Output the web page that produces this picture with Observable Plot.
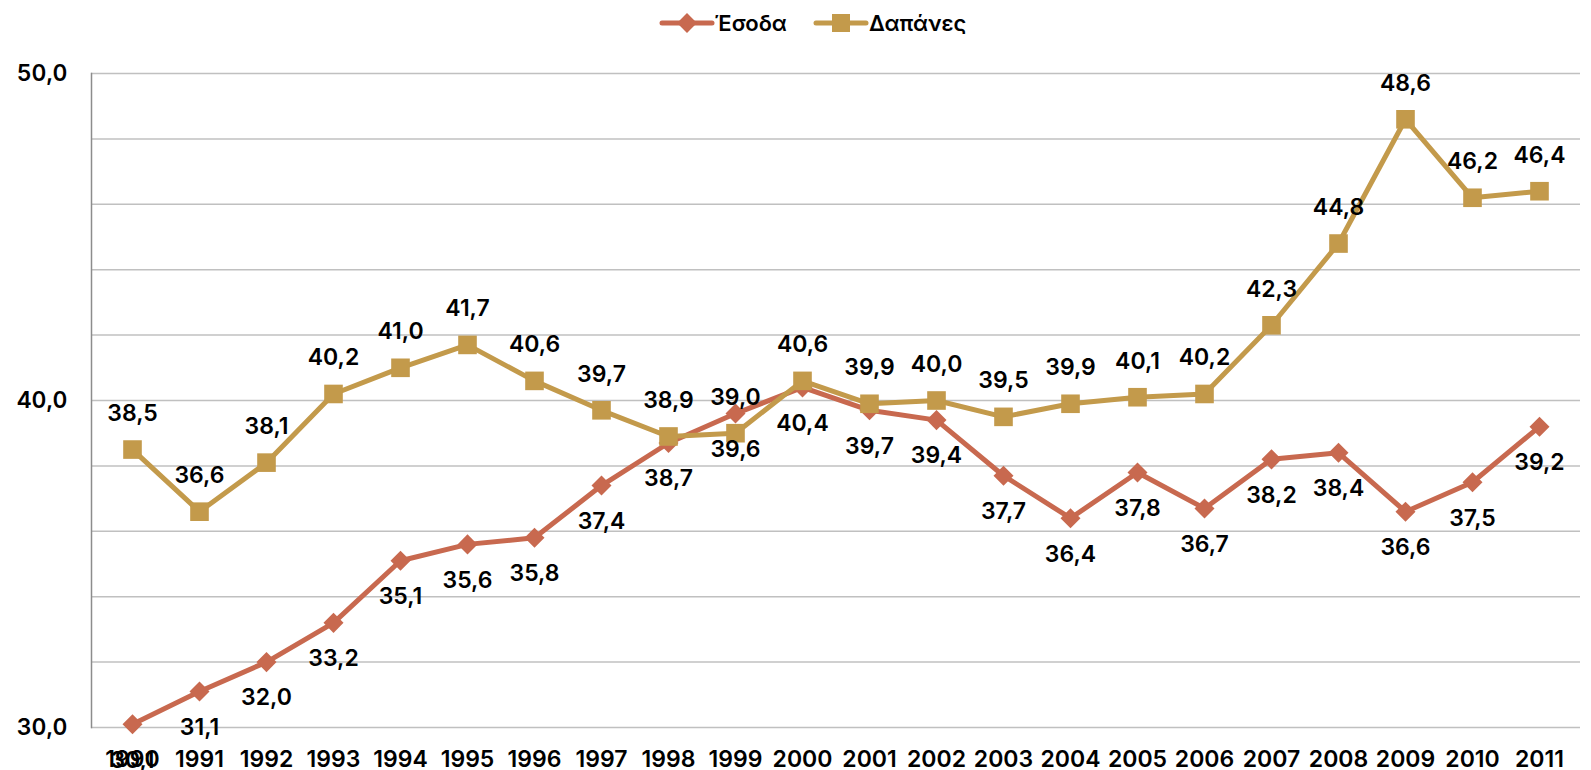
<!DOCTYPE html>
<html>
<head>
<meta charset="utf-8">
<script src="https://cdn.jsdelivr.net/npm/d3@7"></script>
<script src="https://cdn.jsdelivr.net/npm/@observablehq/plot@0.6"></script>
<style>
  html, body { margin: 0; padding: 0; background: #fff; }
  body { width: 1591px; height: 770px; overflow: hidden; font-family: "Inter", "Liberation Sans", sans-serif; }
  #legend { height: 45px; display: flex; justify-content: center; align-items: center; gap: 26px; padding-left: 34px; box-sizing: border-box; font-size: 22px; font-weight: 600; color: #000; }
  .item { display: flex; align-items: center; gap: 0px; }
  .item svg { display: block; }
</style>
</head>
<body>
<div id="legend"></div>
<div id="chart"></div>
<script>
const years = ["1990","1991","1992","1993","1994","1995","1996","1997","1998","1999","2000","2001","2002","2003","2004","2005","2006","2007","2008","2009","2010","2011"];
const esoda = [30.1, 31.1, 32.0, 33.2, 35.1, 35.6, 35.8, 37.4, 38.7, 39.6, 40.4, 39.7, 39.4, 37.7, 36.4, 37.8, 36.7, 38.2, 38.4, 36.6, 37.5, 39.2];
const dapanes = [38.5, 36.6, 38.1, 40.2, 41.0, 41.7, 40.6, 39.7, 38.9, 39.0, 40.6, 39.9, 40.0, 39.5, 39.9, 40.1, 40.2, 42.3, 44.8, 48.6, 46.2, 46.4];
const seriesNames = ["Έσοδα", "Δαπάνες"];
const seriesColors = ["#C8694F", "#C39A4B"];
const yLabelTicks = [30, 40, 50];
const yGridTicks = [30, 32, 34, 36, 38, 40, 42, 44, 46, 48, 50];

const fmt = d => d.toFixed(1).replace(".", ",");
const rowsE = years.map((y, i) => ({year: y, value: esoda[i], series: seriesNames[0]}));
const rowsD = years.map((y, i) => ({year: y, value: dapanes[i], series: seriesNames[1]}));

const chart = Plot.plot({
  width: 1591,
  height: 725,
  marginLeft: 91,
  marginRight: 11,
  marginTop: 28,
  marginBottom: 43,
  x: {type: "point", domain: years, padding: 0.5, label: null},
  y: {domain: [30, 50], label: null},
  color: {domain: seriesNames, range: seriesColors},
  style: {fontFamily: "Inter, 'Liberation Sans', sans-serif", fontSize: "23px", fontWeight: 600, color: "#000", background: "#fff", overflow: "visible"},
  marks: [
    Plot.gridY(yGridTicks, {stroke: "#c0c0c0", strokeOpacity: 1, strokeWidth: 1.5}),
    Plot.frame({anchor: "left", stroke: "#8c8c8c", strokeWidth: 1.5}),
    Plot.axisY(yLabelTicks, {tickSize: 0, tickPadding: 24, tickFormat: fmt, fontSize: 23, fill: "#000"}),
    Plot.axisX({tickSize: 0, tickPadding: 23, fontSize: 23, fill: "#000"}),
    Plot.line(rowsE, {x: "year", y: "value", stroke: "series", strokeWidth: 5}),
    Plot.dot(rowsE, {x: "year", y: "value", fill: "series", symbol: "square", rotate: 45, r: 8}),
    Plot.line(rowsD, {x: "year", y: "value", stroke: "series", strokeWidth: 5}),
    Plot.dot(rowsD, {x: "year", y: "value", fill: "series", symbol: "square", r: 10.5}),
    Plot.text(rowsE, {x: "year", y: "value", text: d => fmt(d.value), dy: 36, fill: "#000", fontSize: 23}),
    Plot.text(rowsD, {x: "year", y: "value", text: d => fmt(d.value), dy: -36, fill: "#000", fontSize: 23})
  ]
});
document.getElementById("chart").appendChild(chart);

// legend
const legend = document.getElementById("legend");
seriesNames.forEach((name, i) => {
  const item = document.createElement("div");
  item.className = "item";
  const isDiamond = i === 0;
  const marker = isDiamond
    ? `<rect x="21" y="5" width="14" height="14" fill="${seriesColors[i]}" transform="rotate(45 28 12)"/>`
    : `<rect x="19" y="3" width="18" height="18" fill="${seriesColors[i]}"/>`;
  item.innerHTML = `<svg width="56" height="24"><line x1="3" y1="12" x2="53" y2="12" stroke="${seriesColors[i]}" stroke-width="5" stroke-linecap="round"/>${marker}</svg><span>${name}</span>`;
  legend.appendChild(item);
});
</script>
</body>
</html>
